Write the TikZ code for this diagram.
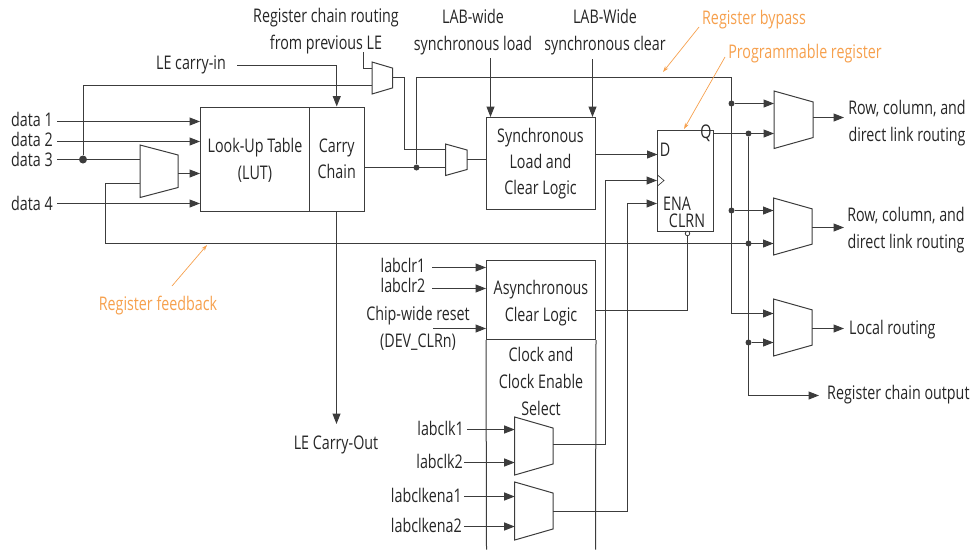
\documentclass[tikz,border=0pt]{standalone}
\usepackage{fontspec}
\setmainfont[FakeStretch=0.76]{Open Sans}
\definecolor{wiregray}{HTML}{3C3C3C}
\definecolor{noteorange}{HTML}{F6A04D}
\usetikzlibrary{arrows.meta,calc}

\tikzset{
wire/.style={line width=1pt, color=wiregray},
wirearrow/.style={wire, -{Triangle[length=10.5pt,width=8pt]}},
notearrow/.style={line width=0.7pt, color=noteorange, -{Stealth[length=6pt,width=4pt]}},
blockbox/.style={draw=wiregray, line width=1pt, inner sep=0pt, align=center, text=black!85, font=\fontsize{18.8}{26}\selectfont},
labeltext/.style={inner sep=0pt, align=center, text=black!85, font=\fontsize{18.8}{27}\selectfont},
notetext/.style={inner sep=0pt, text=noteorange, font=\fontsize{18.8}{26}\selectfont},
dotnode/.style={circle, fill=wiregray, inner sep=0pt, minimum size=6pt}}

\begin{document}
\begin{tikzpicture}[x=1pt,y=-1pt]
\useasboundingbox (0,0) rectangle (976,550);

%the blocks
\node[blockbox, minimum width=109pt, minimum height=104pt] (lut) at (255,159) {};
\node[labeltext] (luttext) at (255,160.5) {Look-Up Table\\(LUT)};
\node[blockbox, minimum width=54.5pt, minimum height=104pt] (carry) at (336.75,159) {Carry\\Chain};
\node[blockbox, minimum width=109pt, minimum height=92pt] (sync) at (540.5,163.5) {Synchronous\\Load and\\Clear Logic};
\node[blockbox, minimum width=56pt, minimum height=101pt] (reg) at (685.5,180.5) {};
\node[blockbox, minimum width=109pt, minimum height=79pt] (async) at (541,300) {};
\node[labeltext] (asynctext) at (541,303.5) {Asynchronous\\Clear Logic};
\node[labeltext] (clockselect) at (541,381.5) {Clock and\\Clock Enable\\Select};
\coordinate (clockleft) at (486.5,549.5);
\coordinate (clockright) at (595.5,549.5);
\draw[wire] (async.south west) -- (clockleft);
\draw[wire] (async.south east) -- (clockright);

%the muxes
\foreach \n/\x/\ytop/\w/\h/\ina/\inb/\outy in {
  m1/140/145/38/52.5/159.5/183.5/173.5,
  m2/372/62/20.5/32/68.5/85.5/77.5,
  m3/445.5/144/21.5/31.5/149.5/167.5/159.5,
  m4/774/91/39/57.5/103.5/133.5/117.5,
  m5/773.5/198/38.5/57/210.5/243.5/227.5,
  m6/773.5/299/38.5/57/313.5/342.5/328.5,
  m7/514.7/417/38.3/58/429.5/462.5/444.5,
  m8/514.7/482/38.3/58/496.5/526.5/511.5}
{
  \pgfmathsetmacro{\slant}{0.19*\h}
  \draw[wire] (\x,\ytop) -- (\x+\w,\ytop+\slant) -- (\x+\w,\ytop+\h-\slant) -- (\x,\ytop+\h) -- cycle;
  \coordinate (\n-a) at (\x,\ina);
  \coordinate (\n-b) at (\x,\inb);
  \coordinate (\n-o) at (\x+\w,\outy);
}

%free ends and corners of the wires
\foreach \n/\x/\y in {
  startone/57/121.5, starttwo/57/141.5, startthree/57/159.5, startfour/57/203.5,
  chainin/363.5/52, carryin/237/65.5, joinmux/404.5/77.5, bypass/731.5/77.5, feedback/105.5/183.5,
  loadin/490.5/58, clearin/592.5/59, regd/657.5/154.5, regclk/605.5/180.5, regena/627.5/203.5,
  clrout/595.5/310.5, carryout/336.5/424,
  clrone/432/267.5, clrtwo/432/288.5, chipreset/433/328.5,
  clkone/467/429.5, clktwo/464/462.5, enaone/464/496.5, enatwo/464/526.5,
  rowone/844/117.5, rowtwo/844/227.5, localout/844/328.5, chainout/819/395.5,
  clka/657.5/175, clkb/664/180.5, clkc/657.5/186}
  \coordinate (\n) at (\x,\y);

\foreach \n/\x/\y in {dotcarry/416.5/167.5, dotby/731.5/103.5, dotbz/731.5/210.5,
  dotq/748.5/133.5, dotfb/748.5/243.5, dotlocal/748.5/342.5}
  \node[dotnode] (\n) at (\x,\y) {};
\node[dotnode, minimum size=8pt] (dotdata) at (83,159.5) {};
\node[circle, draw=wiregray, fill=white, line width=0.8pt, inner sep=0pt, minimum size=4.5pt] (bubble) at (687.5,233.5) {};

%inputs of the LUT
\draw[wirearrow] (startone) -- (lut.west |- startone);
\draw[wirearrow] (starttwo) -- (lut.west |- starttwo);
\draw[wirearrow] (startfour) -- (lut.west |- startfour);
\draw[wirearrow] (m1-o) -- (lut.west |- m1-o);
\draw[wire] (startthree) -- (m1-a);
\draw[wire] (dotdata) |- (m2-b);
\draw[wire] (chainin) |- (m2-a);
\draw[wire] (m2-o) -- (joinmux) |- (m3-a);
\draw[wirearrow] (carryin) -| (carry.north);

%carry chain and bypass
\draw[wire] (carry.east |- m3-b) -- (m3-b);
\draw[wirearrow] (dotcarry) |- (bypass) |- (m6-a);
\draw[wirearrow] (dotby) -- (m4-a);
\draw[wirearrow] (dotbz) -- (m5-a);
\draw[wirearrow] (carry.south -| carryout) -- (carryout);

%register
\draw[wirearrow] (loadin) -- (sync.north -| loadin);
\draw[wirearrow] (clearin) -- (sync.north -| clearin);
\draw[wire] (m3-o) -- (sync.west |- m3-o);
\draw[wirearrow] (sync.east |- regd) -- (regd);
\draw[wire, line width=0.7pt] (clka) -- (clkb) -- (clkc);
\draw[wirearrow] (m7-o) -| (regclk) -- (reg.west |- regclk);
\draw[wirearrow] (m8-o) -| (regena) -- (reg.west |- regena);
\draw[wire] (clrout) -| (bubble.south);

%outputs
\draw[wirearrow] (reg.east |- m4-b) -- (m4-b);
\draw[wirearrow] (dotq) |- (chainout);
\draw[wirearrow] (dotlocal) -- (m6-b);
\draw[wirearrow] (m1-b) -- (feedback) |- (m5-b);
\draw[wirearrow] (m4-o) -- (rowone);
\draw[wirearrow] (m5-o) -- (rowtwo);
\draw[wirearrow] (m6-o) -- (localout);

%inputs at the bottom
\draw[wirearrow] (clrone) -- (async.west |- clrone);
\draw[wirearrow] (clrtwo) -- (async.west |- clrtwo);
\draw[wirearrow] (chipreset) -- (async.west |- chipreset);
\draw[wirearrow] (clkone) -- (m7-a);
\draw[wirearrow] (clktwo) -- (m7-b);
\draw[wirearrow] (enaone) -- (m8-a);
\draw[wirearrow] (enatwo) -- (m8-b);

%labels
\node[labeltext, anchor=west] (dataone) at (11,119) {data 1};
\node[labeltext, anchor=west] (datatwo) at (11,139) {data 2};
\node[labeltext, anchor=west] (datathree) at (11,159) {data 3};
\node[labeltext, anchor=west] (datafour) at (11,203) {data 4};
\node[labeltext] (lecarryin) at (191,64.5) {LE carry-in};
\node[labeltext] (chainlabel) at (326,31.5) {Register chain routing\\from previous LE};
\node[labeltext] (loadlabel) at (473,32.5) {LAB-wide\\synchronous load};
\node[labeltext] (clearlabel) at (605,32.5) {LAB-Wide\\synchronous clear};
\node[labeltext] (dlabel) at (665,150) {D};
\node[labeltext] (qlabel) at (706,133) {Q};
\node[labeltext] (enalabel) at (677,204) {ENA};
\node[labeltext] (clrnlabel) at (687,221) {CLRN};
\node[labeltext] (labclrone) at (403,265) {labclr1};
\node[labeltext] (labclrtwo) at (403,285) {labclr2};
\node[labeltext] (chiplabel) at (418,328.5) {Chip-wide reset\\(DEV\_CLRn)};
\node[labeltext, anchor=east] (labclkone) at (464,428) {labclk1};
\node[labeltext, anchor=east] (labclktwo) at (463,461) {labclk2};
\node[labeltext, anchor=east] (labenaone) at (462,495) {labclkena1};
\node[labeltext, anchor=east] (labenatwo) at (462,525) {labclkena2};
\node[labeltext] (carryoutlabel) at (336,445) {LE Carry-Out};
\node[labeltext] (rowlabelone) at (907,123) {Row, column, and\\direct link routing};
\node[labeltext] (rowlabeltwo) at (906,230) {Row, column, and\\direct link routing};
\node[labeltext, anchor=west] (locallabel) at (849,330) {Local routing};
\node[labeltext, anchor=west] (chainoutlabel) at (827,395) {Register chain output};

%==============================
\node[notetext] (bypassnote) at (754,20) {Register bypass};
\node[notetext] (regnote) at (805,54) {Programmable register};
\node[notetext] (feedbacknote) at (158,306) {Register feedback};
\coordinate (bypassa) at (699,27);
\coordinate (bypassb) at (663,72);
\coordinate (rega) at (725,57);
\coordinate (regb) at (684,129);
\coordinate (feedbacka) at (172,286);
\coordinate (feedbackb) at (207,245);
\draw[notearrow] (bypassa) -- (bypassb);
\draw[notearrow] (rega) -- (regb);
\draw[notearrow] (feedbacka) -- (feedbackb);

\end{tikzpicture}
\end{document}
